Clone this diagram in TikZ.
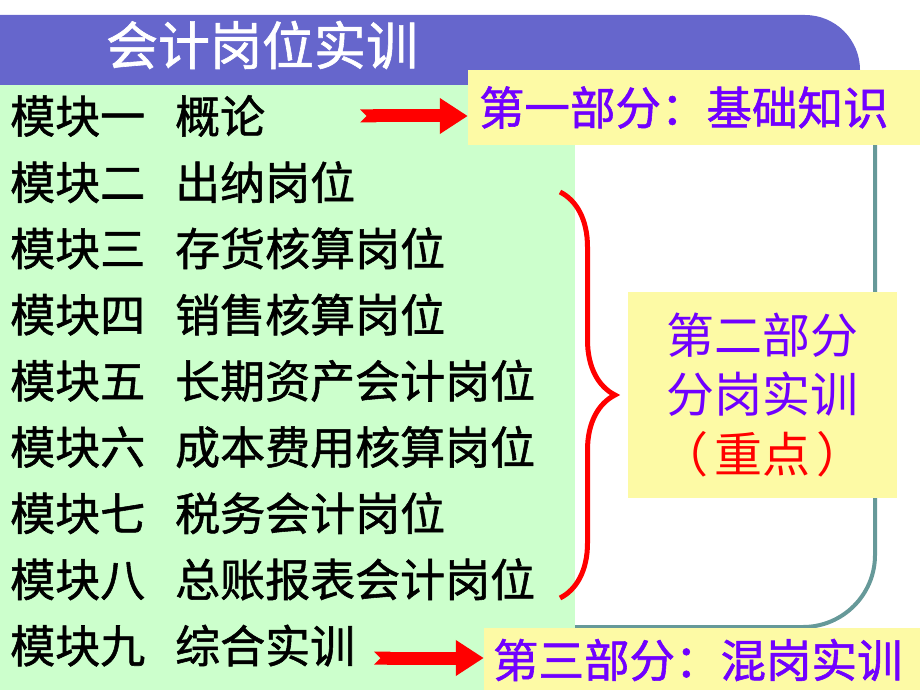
\documentclass[tikz,border=0pt]{standalone}
\usepackage{fontspec}
\usetikzlibrary{arrows.meta, decorations.pathreplacing}
\newfontfamily\cjk{Noto Sans CJK SC}
\newfontfamily\cjkb{Noto Sans CJK SC}[FakeBold = 1.2]
\definecolor{hdrblue}{RGB}{102,102,204}
\definecolor{modgreen}{RGB}{204,255,204}
\definecolor{partyellow}{RGB}{253,250,165}
\definecolor{partviolet}{RGB}{112,0,255}
\definecolor{frameteal}{RGB}{102,153,153}

\begin{document}
\begin{tikzpicture}[x = 1pt, y = -1pt,
    mod/.style = {anchor = west, inner sep = 0pt, font = \cjkb\fontsize{45}{54}\selectfont},
    part/.style = {fill = partyellow, text = partviolet, inner ysep = 0pt, font = \cjkb\fontsize{45.5}{54}\selectfont},
    bigarrow/.style = {draw = red, line width = 13pt, {Triangle Cap[reversed]}-{Triangle[length = 28pt, width = 34pt]}}]
        \useasboundingbox (0,0) rectangle (920,690);

        % frame and background blocks
        \draw [frameteal, line width = 4pt, rounded corners = 72pt] (875,100) -- (875,627) -- (575,627);
        \fill [hdrblue] (0,85) -- (0,15) [rounded corners = 55pt] -- (860,15) [sharp corners] -- (860,85) -- cycle;
        \fill [modgreen] (0,85) rectangle (575,690);

        \node [inner sep = 0pt, text = white, font = \cjkb\fontsize{52}{60}\selectfont] (title) at (262,45) {会计岗位实训};

        \foreach \n/\t [count = \i] in {一/概论, 二/出纳岗位, 三/存货核算岗位, 四/销售核算岗位, 五/长期资产会计岗位,
                                       六/成本费用核算岗位, 七/税务会计岗位, 八/总账报表会计岗位, 九/综合实训}
                 {
                   \node [mod] (m\i) at (10, {116 + 66.2*(\i-1)}) {模块\n\hspace{30pt}\t};
                 }

        \node [part, text width = 430pt, inner xsep = 11pt, minimum height = 75pt, align = left] (p1) at (694,107.5) {第一部分：基础知识};
        \node [part, text width = 418pt, inner xsep = 9pt, minimum height = 64pt, align = left] (p3) at (702,660) {第三部分：混岗实训};
        \node [part, minimum width = 269pt, minimum height = 206pt, align = center,
               font = \cjk\fontsize{48}{59.5}\selectfont] (p2) at (762.5,395) {第二部分\\分岗实训\\{\color{red}（\hspace{6pt}重点\hspace{6pt}）}};

        \coordinate (a1) at (360,116);
        \coordinate (a3) at (374,658);
        \draw [bigarrow] (a1) -- (a1 -| p1.west);
        \draw [bigarrow] (a3) -- (a3 -| p3.west);

        \coordinate (bt) at (560,192);
        \coordinate (bb) at (560,598);
        \draw [red, line width = 5pt, decorate, decoration = {brace, amplitude = 55pt}] (bt) -- (bb);
\end{tikzpicture}
\end{document}
